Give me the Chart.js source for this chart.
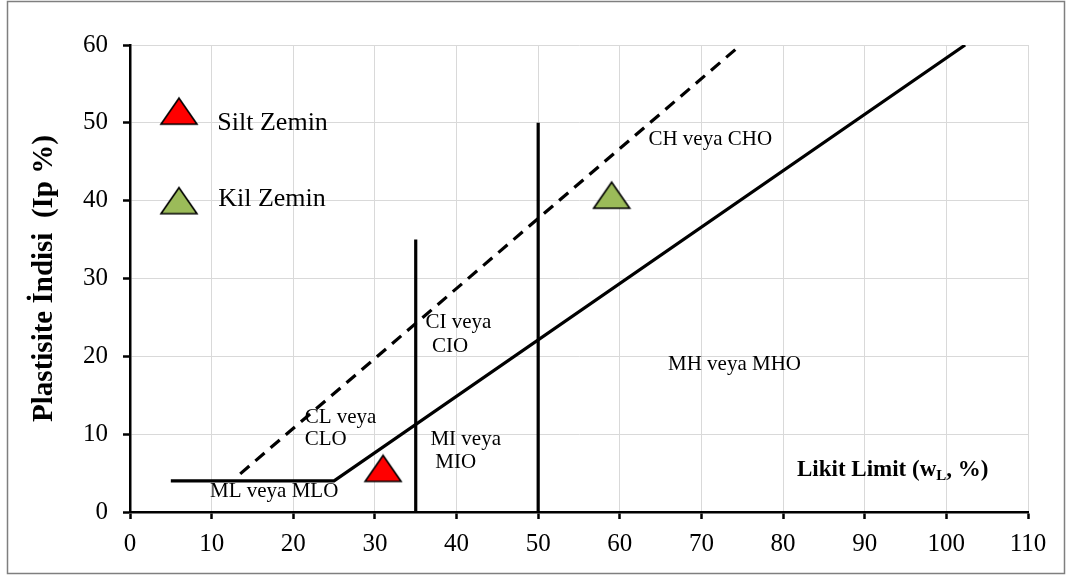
<!DOCTYPE html>
<html lang="tr">
<head>
<meta charset="UTF-8">
<title>Plastisite Kartı</title>
<style>
  body { margin: 0; background: #fff; }
  #wrap { width: 1066px; height: 576px; }
</style>
</head>
<body>
<div id="wrap"><canvas id="plastChart" width="1066" height="576"></canvas></div>
<script src="https://cdn.jsdelivr.net/npm/chart.js"></script>
<script>
// eksen değerleri
const xTickValues = [0, 10, 20, 30, 40, 50, 60, 70, 80, 90, 100, 110];
const yTickValues = [0, 10, 20, 30, 40, 50, 60];

// A çizgisi (düz) ve U çizgisi (kesikli)
const aLineX = [5, 25, 102.3];
const aLineY = [4, 4, 60];
const uLineX = [13.5, 74.8];
const uLineY = [4.9, 60];

// wL = 35 ve wL = 50 sınırları
const wl35X = [35, 35];
const wl35Y = [0, 35];
const wl50X = [50, 50];
const wl50Y = [0, 50];

// numuneler
const siltX = [31];
const siltY = [5.6];
const kilX = [59];
const kilY = [40.7];

// açıklama işaretleri (kırmızı, yeşil)
const keyX = [6, 6];
const keyY = [51.5, 40.0];

const pts = (xs, ys) => xs.map((x, i) => ({ x: x, y: ys[i] }));

// Excel tarzı geniş üçgen işaret
function triangleMarker(fill) {
  const c = document.createElement('canvas');
  c.width = 40; c.height = 30;
  const g = c.getContext('2d');
  g.beginPath();
  g.moveTo(20, 2);
  g.lineTo(38, 28);
  g.lineTo(2, 28);
  g.closePath();
  g.fillStyle = fill;
  g.fill();
  g.lineWidth = 1.6;
  g.strokeStyle = '#000';
  g.lineJoin = 'miter';
  g.stroke();
  return c;
}
const redTri = triangleMarker('#ff0000');
const greenTri = triangleMarker('#9bbb59');

// bölge yazıları (veri koordinatında sol kenar / dikey orta)
const regionLabels = [
  { text: 'Silt Zemin', x: 10.7, y: 49.9, size: 26 },
  { text: 'Kil Zemin', x: 10.8, y: 40.2, size: 26 },
  { text: 'CH veya CHO', x: 63.5, y: 47.8, size: 21 },
  { text: 'CI veya', x: 36.2, y: 24.3, size: 21 },
  { text: 'CIO', x: 37.0, y: 21.3, size: 21 },
  { text: 'CL veya', x: 21.4, y: 12.2, size: 21 },
  { text: 'CLO', x: 21.4, y: 9.3, size: 21 },
  { text: 'MI veya', x: 36.8, y: 9.3, size: 21 },
  { text: 'MIO', x: 37.4, y: 6.3, size: 21 },
  { text: 'ML veya MLO', x: 9.8, y: 2.7, size: 21 },
  { text: 'MH veya MHO', x: 65.9, y: 19.0, size: 21 }
];

const SERIF = '"Liberation Serif", "Times New Roman", serif';

const labelPlugin = {
  id: 'labelPlugin',
  afterDatasetsDraw(chart) {
    const ctx = chart.ctx;
    const xs = chart.scales.x, ys = chart.scales.y;
    ctx.save();
    ctx.fillStyle = '#000';
    ctx.textBaseline = 'middle';
    ctx.textAlign = 'left';
    regionLabels.forEach(l => {
      ctx.font = l.size + 'px ' + SERIF;
      ctx.fillText(l.text, xs.getPixelForValue(l.x), ys.getPixelForValue(l.y));
    });

    // x ekseni başlığı, alt indisli
    let px = xs.getPixelForValue(81.7);
    const py = ys.getPixelForValue(5.4);
    ctx.font = 'bold 23px ' + SERIF;
    const part1 = 'Likit Limit (w';
    ctx.fillText(part1, px, py);
    px += ctx.measureText(part1).width;
    ctx.font = 'bold 15px ' + SERIF;
    ctx.fillText('L', px, py + 6);
    px += ctx.measureText('L').width;
    ctx.font = 'bold 23px ' + SERIF;
    ctx.fillText(', %)', px, py);
    ctx.restore();
  },
  afterDraw(chart) {
    const ctx = chart.ctx;
    ctx.save();
    ctx.strokeStyle = '#7f7f7f';
    ctx.lineWidth = 1.5;
    ctx.strokeRect(7.5, 1.5, 1057, 572);
    ctx.restore();
  }
};

const lineStyle = {
  showLine: true,
  borderColor: '#000',
  borderWidth: 3.2,
  pointRadius: 0,
  fill: false,
  tension: 0
};

new Chart(document.getElementById('plastChart'), {
  type: 'scatter',
  data: {
    datasets: [
      Object.assign({ label: 'A', data: pts(aLineX, aLineY) }, lineStyle),
      Object.assign({ label: 'U', data: pts(uLineX, uLineY), borderDash: [12, 8] }, lineStyle),
      Object.assign({ label: 'wL35', data: pts(wl35X, wl35Y) }, lineStyle),
      Object.assign({ label: 'wL50', data: pts(wl50X, wl50Y) }, lineStyle),
      { label: 'Silt Zemin', data: pts(siltX, siltY), pointStyle: redTri, pointRadius: 15 },
      { label: 'Kil Zemin', data: pts(kilX, kilY), pointStyle: greenTri, pointRadius: 15 },
      { label: 'key', data: pts(keyX, keyY), pointStyle: [redTri, greenTri], pointRadius: 15 }
    ]
  },
  options: {
    responsive: false,
    animation: false,
    devicePixelRatio: 1,
    layout: { padding: { top: 45, right: 38, left: 0, bottom: 0 } },
    plugins: { legend: { display: false }, tooltip: { enabled: false } },
    scales: {
      x: {
        type: 'linear',
        min: xTickValues[0],
        max: xTickValues[xTickValues.length - 1],
        ticks: { stepSize: 10, padding: 10, color: '#000', font: { family: SERIF, size: 25 } },
        grid: { color: '#d9d9d9', lineWidth: 1, tickColor: '#000', tickWidth: 2.5, tickLength: 7 },
        border: { color: '#000', width: 2.5 },
        afterFit(scale) { scale.height = 64; }
      },
      y: {
        type: 'linear',
        min: yTickValues[0],
        max: yTickValues[yTickValues.length - 1],
        ticks: { stepSize: 10, padding: 15, color: '#000', font: { family: SERIF, size: 25 } },
        grid: { color: '#d9d9d9', lineWidth: 1, tickColor: '#000', tickWidth: 2.5, tickLength: 7 },
        border: { color: '#000', width: 2.5 },
        title: {
          display: true,
          text: 'Plastisite İndisi  (Ip %)',
          color: '#000',
          font: { family: SERIF, size: 29, weight: 'bold' },
          padding: { top: 27, bottom: 0 }
        },
        afterFit(scale) { scale.width = 130; }
      }
    }
  },
  plugins: [labelPlugin]
});
</script>
</body>
</html>
